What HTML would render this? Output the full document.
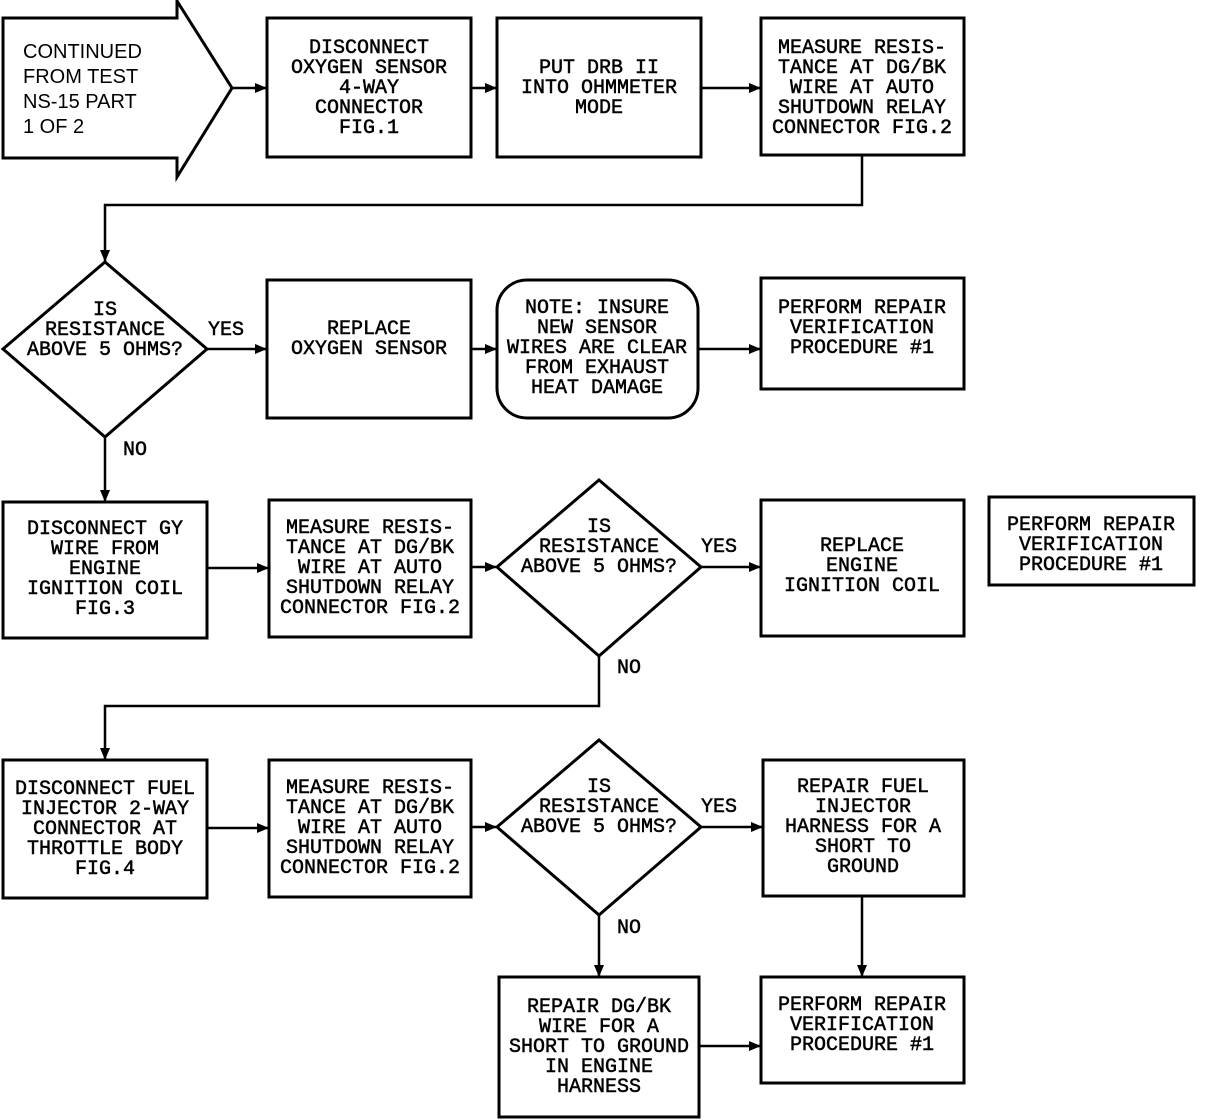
<!DOCTYPE html>
<html><head><meta charset="utf-8"><style>
html,body{margin:0;padding:0;background:#fff}
svg{display:block}
.t{font-family:"Liberation Mono",monospace;font-size:20px;fill:#000;text-anchor:middle;stroke:#000;stroke-width:0.5}
.s{font-family:"Liberation Sans",sans-serif;font-size:20px;fill:#000}
.b{fill:none;stroke:#000;stroke-width:3}
.l{fill:none;stroke:#000;stroke-width:2.5}
</style></head><body>
<svg width="1216" height="1120" viewBox="0 0 1216 1120" xmlns="http://www.w3.org/2000/svg">
<defs><marker id="a" markerWidth="12" markerHeight="10" refX="11" refY="5" orient="auto" markerUnits="userSpaceOnUse"><path d="M0,0 L12,5 L0,10 z" fill="#000"/></marker></defs>

<!-- Row 1 -->
<polygon class="b" points="3,18 177,18 177,1 232,88 177,177 177,158 3,158"/>
<text class="s" x="23" y="58">CONTINUED</text>
<text class="s" x="23" y="83">FROM TEST</text>
<text class="s" x="23" y="108">NS-15 PART</text>
<text class="s" x="23" y="133">1 OF 2</text>

<rect class="b" x="267" y="18" width="204" height="139"/>
<text class="t" x="369" y="53">DISCONNECT</text>
<text class="t" x="369" y="73">OXYGEN SENSOR</text>
<text class="t" x="369" y="93">4-WAY</text>
<text class="t" x="369" y="113">CONNECTOR</text>
<text class="t" x="369" y="133">FIG.1</text>

<rect class="b" x="497" y="18" width="204" height="139"/>
<text class="t" x="599" y="73">PUT DRB II</text>
<text class="t" x="599" y="93">INTO OHMMETER</text>
<text class="t" x="599" y="113">MODE</text>

<rect class="b" x="761" y="18" width="203" height="137"/>
<text class="t" x="862" y="53">MEASURE RESIS-</text>
<text class="t" x="862" y="73">TANCE AT DG/BK</text>
<text class="t" x="862" y="93">WIRE AT AUTO</text>
<text class="t" x="862" y="113">SHUTDOWN RELAY</text>
<text class="t" x="862" y="133">CONNECTOR FIG.2</text>

<line class="l" x1="232" y1="88" x2="266" y2="88" marker-end="url(#a)"/>
<line class="l" x1="471" y1="88" x2="496" y2="88" marker-end="url(#a)"/>
<line class="l" x1="701" y1="88" x2="760" y2="88" marker-end="url(#a)"/>
<polyline class="l" points="862,155 862,205 105,205 105,261" marker-end="url(#a)"/>

<!-- Row 2 -->
<polygon class="b" points="105,262 207,349 105,437 3,349"/>
<text class="t" x="105" y="315">IS</text>
<text class="t" x="105" y="335">RESISTANCE</text>
<text class="t" x="105" y="355">ABOVE 5 OHMS?</text>
<text class="t" x="226" y="335">YES</text>
<line class="l" x1="207" y1="349" x2="266" y2="349" marker-end="url(#a)"/>

<rect class="b" x="267" y="280" width="204" height="138"/>
<text class="t" x="369" y="334">REPLACE</text>
<text class="t" x="369" y="354">OXYGEN SENSOR</text>

<line class="l" x1="471" y1="349" x2="496" y2="349" marker-end="url(#a)"/>
<rect class="b" x="497" y="280" width="201" height="138" rx="30"/>
<text class="t" x="597" y="313">NOTE: INSURE</text>
<text class="t" x="597" y="333">NEW SENSOR</text>
<text class="t" x="597" y="353">WIRES ARE CLEAR</text>
<text class="t" x="597" y="373">FROM EXHAUST</text>
<text class="t" x="597" y="393">HEAT DAMAGE</text>
<line class="l" x1="698" y1="349" x2="760" y2="349" marker-end="url(#a)"/>

<rect class="b" x="761" y="278" width="203" height="111"/>
<text class="t" x="862" y="313">PERFORM REPAIR</text>
<text class="t" x="862" y="333">VERIFICATION</text>
<text class="t" x="862" y="353">PROCEDURE #1</text>

<text class="t" x="135" y="455">NO</text>
<line class="l" x1="105" y1="437" x2="105" y2="501" marker-end="url(#a)"/>

<!-- Row 3 -->
<rect class="b" x="3" y="502" width="204" height="136"/>
<text class="t" x="105" y="534">DISCONNECT GY</text>
<text class="t" x="105" y="554">WIRE FROM</text>
<text class="t" x="105" y="574">ENGINE</text>
<text class="t" x="105" y="594">IGNITION COIL</text>
<text class="t" x="105" y="614">FIG.3</text>
<line class="l" x1="207" y1="568" x2="268" y2="568" marker-end="url(#a)"/>

<rect class="b" x="269" y="500" width="202" height="137"/>
<text class="t" x="370" y="533">MEASURE RESIS-</text>
<text class="t" x="370" y="553">TANCE AT DG/BK</text>
<text class="t" x="370" y="573">WIRE AT AUTO</text>
<text class="t" x="370" y="593">SHUTDOWN RELAY</text>
<text class="t" x="370" y="613">CONNECTOR FIG.2</text>
<line class="l" x1="471" y1="567" x2="496" y2="567" marker-end="url(#a)"/>

<polygon class="b" points="599,480 701,567 599,656 497,567"/>
<text class="t" x="599" y="532">IS</text>
<text class="t" x="599" y="552">RESISTANCE</text>
<text class="t" x="599" y="572">ABOVE 5 OHMS?</text>
<text class="t" x="719" y="552">YES</text>
<line class="l" x1="701" y1="567" x2="760" y2="567" marker-end="url(#a)"/>

<rect class="b" x="761" y="500" width="203" height="136"/>
<text class="t" x="862" y="551">REPLACE</text>
<text class="t" x="862" y="571">ENGINE</text>
<text class="t" x="862" y="591">IGNITION COIL</text>

<rect class="b" x="989" y="497" width="205" height="88"/>
<text class="t" x="1091" y="530">PERFORM REPAIR</text>
<text class="t" x="1091" y="550">VERIFICATION</text>
<text class="t" x="1091" y="570">PROCEDURE #1</text>

<text class="t" x="629" y="673">NO</text>
<polyline class="l" points="599,656 599,706 105,706 105,759" marker-end="url(#a)"/>

<!-- Row 4 -->
<rect class="b" x="3" y="760" width="204" height="138"/>
<text class="t" x="105" y="794">DISCONNECT FUEL</text>
<text class="t" x="105" y="814">INJECTOR 2-WAY</text>
<text class="t" x="105" y="834">CONNECTOR AT</text>
<text class="t" x="105" y="854">THROTTLE BODY</text>
<text class="t" x="105" y="874">FIG.4</text>
<line class="l" x1="207" y1="828" x2="268" y2="828" marker-end="url(#a)"/>

<rect class="b" x="269" y="760" width="202" height="137"/>
<text class="t" x="370" y="793">MEASURE RESIS-</text>
<text class="t" x="370" y="813">TANCE AT DG/BK</text>
<text class="t" x="370" y="833">WIRE AT AUTO</text>
<text class="t" x="370" y="853">SHUTDOWN RELAY</text>
<text class="t" x="370" y="873">CONNECTOR FIG.2</text>
<line class="l" x1="471" y1="827" x2="496" y2="827" marker-end="url(#a)"/>

<polygon class="b" points="599,740 701,827 599,915 497,827"/>
<text class="t" x="599" y="792">IS</text>
<text class="t" x="599" y="812">RESISTANCE</text>
<text class="t" x="599" y="832">ABOVE 5 OHMS?</text>
<text class="t" x="719" y="812">YES</text>
<line class="l" x1="701" y1="827" x2="762" y2="827" marker-end="url(#a)"/>

<rect class="b" x="763" y="760" width="201" height="136"/>
<text class="t" x="863" y="792">REPAIR FUEL</text>
<text class="t" x="863" y="812">INJECTOR</text>
<text class="t" x="863" y="832">HARNESS FOR A</text>
<text class="t" x="863" y="852">SHORT TO</text>
<text class="t" x="863" y="872">GROUND</text>
<line class="l" x1="862" y1="896" x2="862" y2="976" marker-end="url(#a)"/>

<text class="t" x="629" y="933">NO</text>
<line class="l" x1="599" y1="915" x2="599" y2="976" marker-end="url(#a)"/>

<rect class="b" x="499" y="977" width="200" height="140"/>
<text class="t" x="599" y="1012">REPAIR DG/BK</text>
<text class="t" x="599" y="1032">WIRE FOR A</text>
<text class="t" x="599" y="1052">SHORT TO GROUND</text>
<text class="t" x="599" y="1072">IN ENGINE</text>
<text class="t" x="599" y="1092">HARNESS</text>
<line class="l" x1="699" y1="1046" x2="760" y2="1046" marker-end="url(#a)"/>

<rect class="b" x="761" y="977" width="203" height="106"/>
<text class="t" x="862" y="1010">PERFORM REPAIR</text>
<text class="t" x="862" y="1030">VERIFICATION</text>
<text class="t" x="862" y="1050">PROCEDURE #1</text>
</svg>
</body></html>
